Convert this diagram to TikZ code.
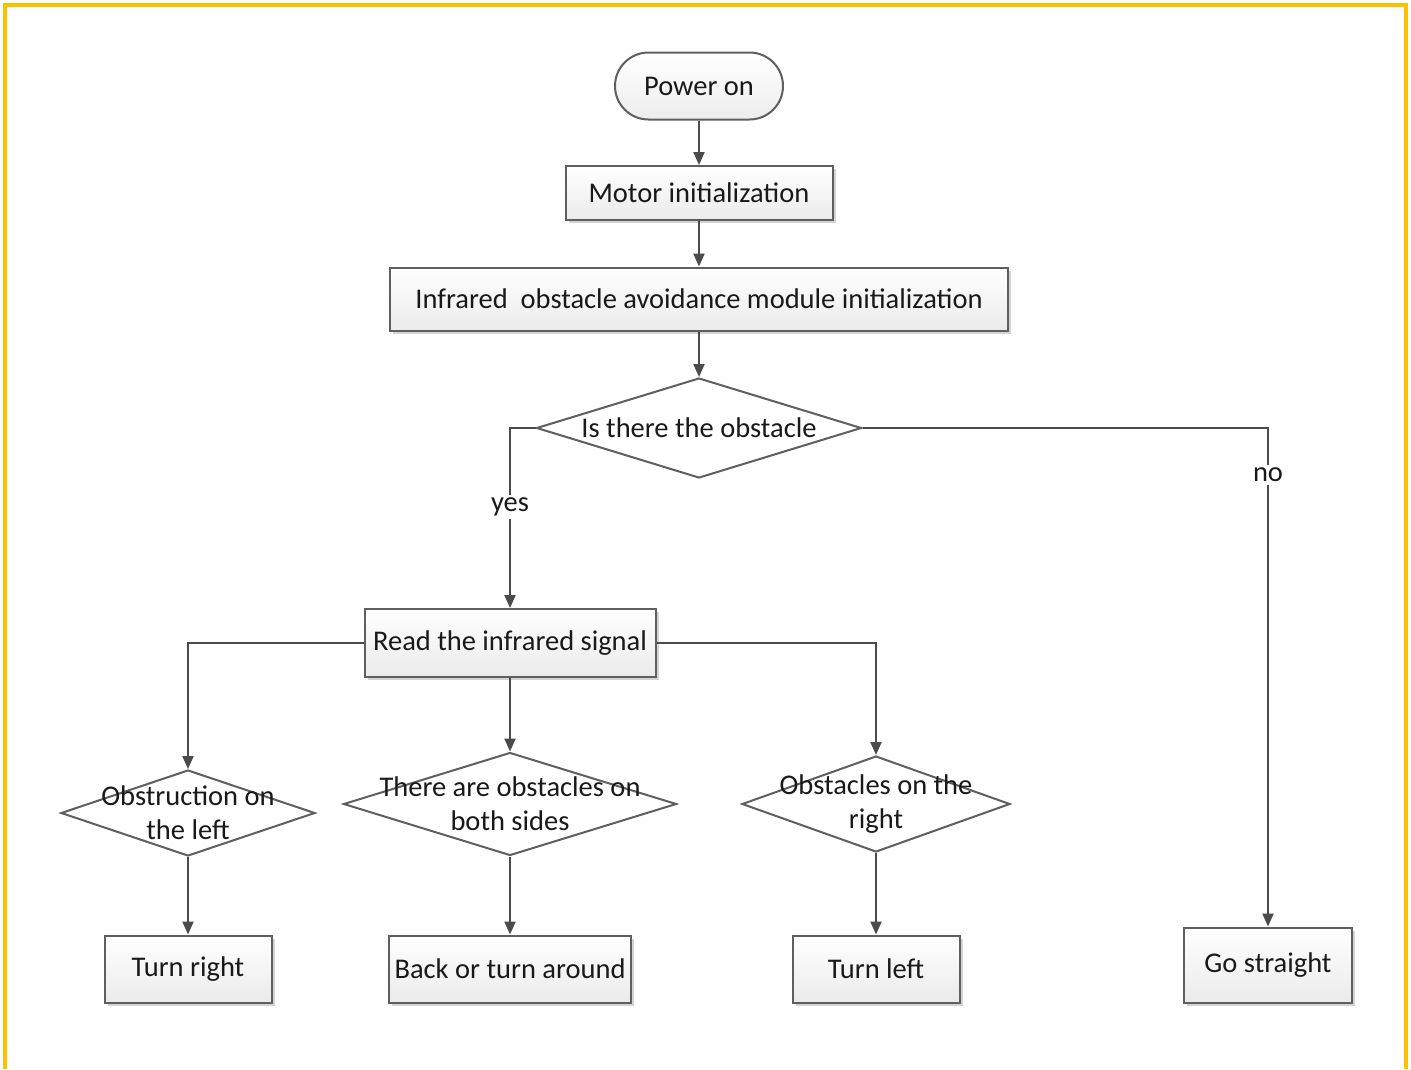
\documentclass[tikz,border=0pt]{standalone}
\usepackage{fontspec}
\setmainfont{Carlito}
\usetikzlibrary{shapes.geometric,shapes.misc,shadows,arrows.meta}
\definecolor{frameyellow}{RGB}{255,192,0}
\definecolor{edgegray}{RGB}{95,95,95}
\definecolor{linegray}{RGB}{75,75,75}
\definecolor{txtdark}{RGB}{25,25,25}

\tikzset{
  base/.style={draw=edgegray, line width=2pt, text=txtdark, inner sep=0pt,
    font=\fontsize{28.5}{34}\selectfont},
  proc/.style={base, rectangle, top color=white, bottom color=gray!16,
    drop shadow={shadow xshift=3pt, shadow yshift=-3pt, opacity=0.35}},
  term/.style={base, rounded rectangle, top color=white, bottom color=gray!14,
    minimum width=168pt, minimum height=67pt},
  decide/.style={base, diamond, fill=white},
  dtext/.style={align=center, text=txtdark, font=\fontsize{28.5}{34}\selectfont},
  arr/.style={draw=linegray, line width=2.2pt, -{Triangle[length=13pt,width=11pt]}},
  lbl/.style={fill=white, text=txtdark, inner sep=3pt, font=\fontsize{28.5}{34}\selectfont}
}

\begin{document}
\begin{tikzpicture}[x=1pt, y=-1pt]

\useasboundingbox (0,0) rectangle (1411,1069);

% outer frame (cut at the bottom)
\draw[frameyellow, line width=4pt] (5,1069) -- (5,5) -- (1406,5) -- (1406,1069);

% ---- main column ----
\node[term] (pwr) at (699,86) {Power on};
\node[proc, minimum width=267pt, minimum height=54pt] (motor) at (699,193) {Motor initialization};
\node[proc, minimum width=618pt, minimum height=63pt] (irinit) at (699,299)
  {Infrared\ \ obstacle avoidance module initialization};
\node[decide, minimum width=325pt, minimum height=100pt,
  label={[dtext]center:Is there the obstacle}] (obst) at (699,428) {};

% ---- yes branch ----
\node[proc, minimum width=291pt, minimum height=68pt] (readsig) at (510,643) {Read the infrared signal};

\node[decide, minimum width=254pt, minimum height=86pt,
  label={[dtext]center:{Obstruction on\\the left}}] (dleft) at (188,813) {};
\node[decide, minimum width=333pt, minimum height=103pt,
  label={[dtext]center:{There are obstacles on\\both sides}}] (dboth) at (510,804) {};
\node[decide, minimum width=268pt, minimum height=96pt,
  label={[dtext]center:{Obstacles on the\\right}}] (dright) at (876,804) {};

\node[proc, minimum width=167pt, minimum height=67pt] (turnr) at (188,969) {Turn right};
\node[proc, minimum width=242pt, minimum height=67pt] (back) at (510,969) {Back or turn around};
\node[proc, minimum width=167pt, minimum height=67pt] (turnl) at (876,969) {Turn left};

% ---- no branch ----
\node[proc, minimum width=168pt, minimum height=75pt] (straight) at (1268,965) {Go straight};

% ---- connectors ----
\draw[arr] (pwr) -- (motor);
\draw[arr] (motor) -- (irinit);
\draw[arr] (irinit) -- (obst);
\draw[arr] (obst.west) -| node[lbl, pos=0.72]{yes} (readsig.north);
\draw[arr] (obst.east) -| node[lbl, pos=0.547]{no} (straight.north);

\draw[arr] (readsig.west) -| (dleft.north);
\draw[arr] (readsig) -- (dboth);
\draw[arr] (readsig.east) -| (dright.north);

\draw[arr] (dleft) -- (turnr);
\draw[arr] (dboth) -- (back);
\draw[arr] (dright) -- (turnl);

\end{tikzpicture}
\end{document}
